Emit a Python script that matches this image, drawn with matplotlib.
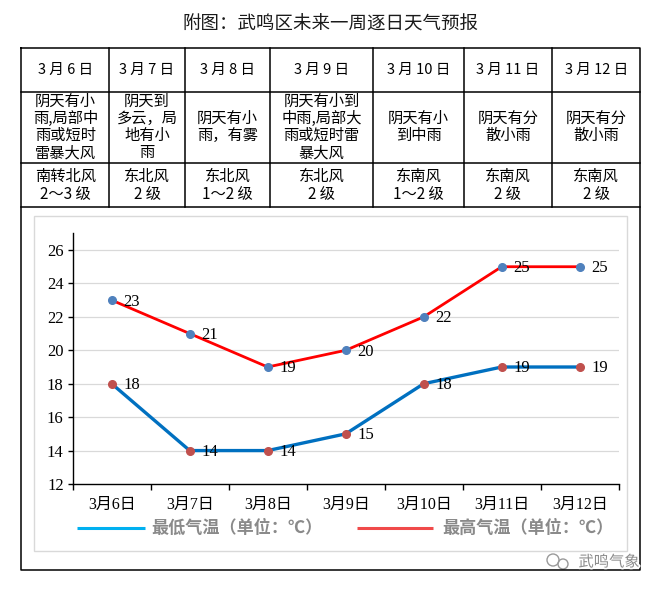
import matplotlib
matplotlib.use('Agg')
import matplotlib.pyplot as plt
import matplotlib.patheffects as pe
from matplotlib.patches import Rectangle, Circle

plt.rcParams['font.family'] = ['Noto Sans CJK SC', 'DejaVu Sans']

# ---------------- data ----------------
title = '附图：武鸣区未来一周逐日天气预报'
categories = ['3月6日', '3月7日', '3月8日', '3月9日', '3月10日', '3月11日', '3月12日']
table_dates = ['3 月 6 日', '3 月 7 日', '3 月 8 日', '3 月 9 日', '3 月 10 日', '3 月 11 日', '3 月 12 日']
weather = [
    ['阴天有小', '雨,局部中', '雨或短时', '雷暴大风'],
    ['阴天到', '多云，局', '地有小', '雨'],
    ['阴天有小', '雨，有雾'],
    ['阴天有小到', '中雨,局部大', '雨或短时雷', '暴大风'],
    ['阴天有小', '到中雨'],
    ['阴天有分', '散小雨'],
    ['阴天有分', '散小雨'],
]
wind = [
    ['南转北风', '2～3 级'],
    ['东北风', '2 级'],
    ['东北风', '1～2 级'],
    ['东北风', '2 级'],
    ['东南风', '1～2 级'],
    ['东南风', '2 级'],
    ['东南风', '2 级'],
]
high = [23, 21, 19, 20, 22, 25, 25]
low = [18, 14, 14, 15, 18, 19, 19]
yticks = [12, 14, 16, 18, 20, 22, 24, 26]
legend_low = '最低气温（单位：℃）'
legend_high = '最高气温（单位：℃）'
watermark = '武鸣气象'

# ---------------- layout (pixels) ----------------
W, H = 664, 591
fig = plt.figure(figsize=(W / 100, H / 100), dpi=100)
fig.patch.set_facecolor('white')

bg = fig.add_axes([0, 0, 1, 1], zorder=0)
bg.set_xlim(0, W)
bg.set_ylim(H, 0)
bg.axis('off')

col_x = [21.3, 109.3, 184.7, 270, 373.3, 464, 552, 640.3]
row_y = [48.3, 91.7, 162.7, 207.3]
box_bottom = 569.5
lw_b = 1.1

# title
bg.text(330.8, 25, title, ha='center', va='center', fontsize=13.3, color='#1a1a1a')

# outer box + table lines
bg.plot([col_x[0], col_x[-1], col_x[-1], col_x[0], col_x[0]],
        [row_y[0], row_y[0], box_bottom, box_bottom, row_y[0]], color='black', lw=lw_b)
for y in row_y[1:]:
    bg.plot([col_x[0], col_x[-1]], [y, y], color='black', lw=lw_b)
for x in col_x[1:-1]:
    bg.plot([x, x], [row_y[0], row_y[-1]], color='black', lw=lw_b)

pitch = 17
for i in range(7):
    cx = (col_x[i] + col_x[i + 1]) / 2
    bg.text(cx, (row_y[0] + row_y[1]) / 2, table_dates[i], ha='center', va='center',
            fontsize=10.5, color='black')
    cy = (row_y[1] + row_y[2]) / 2
    n = len(weather[i])
    for k, line in enumerate(weather[i]):
        bg.text(cx, cy + (k - (n - 1) / 2) * pitch, line, ha='center', va='center',
                fontsize=11, color='black')
    cy = (row_y[2] + row_y[3]) / 2
    n = len(wind[i])
    for k, line in enumerate(wind[i]):
        bg.text(cx, cy + (k - (n - 1) / 2) * pitch, line, ha='center', va='center',
                fontsize=11, color='black')

# chart area frame (light gray)
bg.add_patch(Rectangle((34, 216), 626.5 - 34, 550.7 - 216, fill=False,
                       edgecolor='#d9d9d9', lw=1.0))

# legend
bg.plot([77, 145], [528, 528], color='#00B0F0', lw=2.2, solid_capstyle='butt')
bg.text(151, 528, legend_low, ha='left', va='center', fontsize=12.3,
        color='#8a8a8a', fontweight='bold')
bg.plot([357, 433], [528, 528], color='#F04A4A', lw=2.2, solid_capstyle='butt')
bg.text(442, 528, legend_high, ha='left', va='center', fontsize=12.3,
        color='#8a8a8a', fontweight='bold')

# watermark
bg.add_patch(Circle((553, 560), 6, fill=False, edgecolor='#9a9a9a', lw=1.0))
bg.add_patch(Circle((563, 564), 5, fill=False, edgecolor='#9a9a9a', lw=1.0))
bg.text(609, 562, watermark, ha='center', va='center', fontsize=11, color='#8c8c8c',
        path_effects=[pe.withStroke(linewidth=2.5, foreground='white')])

# ---------------- main chart ----------------
ax_l, ax_r, ax_b, ax_t = 72.7, 618.7, 484, 233.3
ax = fig.add_axes([ax_l / W, (H - ax_b) / H, (ax_r - ax_l) / W, (ax_b - ax_t) / H], zorder=2)
ax.set_facecolor('white')
x = list(range(len(categories)))
ax.set_xlim(-0.5, len(categories) - 0.5)
ax.set_ylim(12, 27)

for s in ['top', 'right']:
    ax.spines[s].set_visible(False)
for s in ['left', 'bottom']:
    ax.spines[s].set_color('black')
    ax.spines[s].set_linewidth(1.0)

ax.set_yticks(yticks)
ax.set_yticklabels([str(v) for v in yticks], fontfamily='Liberation Serif', fontsize=12)
ax.tick_params(axis='y', direction='out', length=3.5, width=1.0, pad=3, colors='black')
ax.set_xticks(x)
ax.set_xticklabels(categories, fontfamily=['Liberation Serif', 'Noto Sans CJK SC'], fontsize=11.5)
ax.set_xticks([i - 0.5 for i in range(len(categories) + 1)], minor=True)
ax.tick_params(axis='x', which='major', length=0, pad=9)
ax.tick_params(axis='x', which='minor', direction='out', length=4, width=1.0)
for v in yticks[1:]:
    ax.axhline(v, color='#d9d9d9', lw=0.9, zorder=0)

ax.plot(x, high, color='#FF0000', lw=2.0, marker='o', markersize=5.5,
        markerfacecolor='#4F81BD', markeredgecolor='#4F81BD', zorder=3, clip_on=False)
ax.plot(x, low, color='#0070C0', lw=2.4, marker='o', markersize=5.5,
        markerfacecolor='#C0504D', markeredgecolor='#C0504D', zorder=3, clip_on=False)

for xi, v in zip(x, high):
    ax.annotate(str(v), (xi, v), xytext=(8.5, -1), textcoords='offset points',
                ha='left', va='center', fontsize=12, fontfamily='Liberation Serif', zorder=4)
for xi, v in zip(x, low):
    ax.annotate(str(v), (xi, v), xytext=(8.5, -1), textcoords='offset points',
                ha='left', va='center', fontsize=12, fontfamily='Liberation Serif', zorder=4)

fig.savefig('out.png', dpi=100, facecolor='white')
